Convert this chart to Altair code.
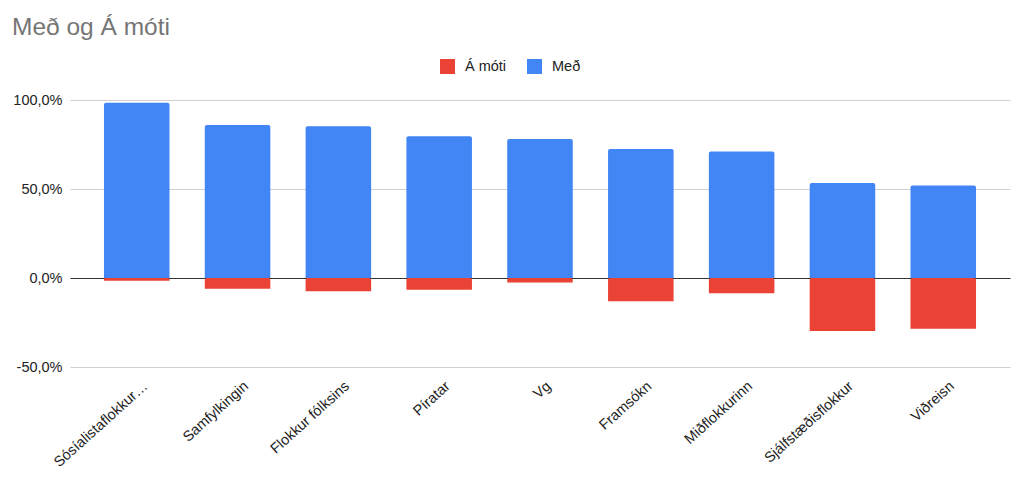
import altair as alt
import pandas as pd

parties = ["Sósíalistaflokkur…", "Samfylkingin", "Flokkur fólksins", "Píratar", "Vg",
           "Framsókn", "Miðflokkurinn", "Sjálfstæðisflokkur", "Viðreisn"]
med = [98.5, 86.0, 85.2, 79.6, 78.1, 72.5, 71.0, 53.4, 51.9]
a_moti = [-1.5, -6.0, -7.5, -6.6, -2.5, -13.0, -8.6, -29.8, -28.5]
series = ["Á móti", "Með"]
colors = ["#EA4335", "#4285F4"]
y_ticks = [-50, 0, 50, 100]

rows = []
for p, m, a in zip(parties, med, a_moti):
    rows.append({"flokkur": p, "hopur": "Með", "gildi": m})
    rows.append({"flokkur": p, "hopur": "Á móti", "gildi": a})
df = pd.DataFrame(rows)

FONT = "Liberation Sans"

chart = alt.Chart(df).mark_bar(cornerRadiusEnd=2).encode(
    x=alt.X("flokkur:N", sort=parties, title=None,
            scale=alt.Scale(paddingInner=0.35, paddingOuter=0.337),
            axis=alt.Axis(labelAngle=318, labelAlign="right", labelBaseline="middle",
                          labelPadding=17, labelOffset=9, labelLimit=0, domain=False, ticks=False,
                          labelFontSize=14.5, labelColor="#222", labelFont=FONT)),
    y=alt.Y("gildi:Q", stack=None, title=None,
            scale=alt.Scale(domain=[-50, 100], nice=False),
            axis=alt.Axis(values=y_ticks, domain=False, ticks=False, labelPadding=8,
                          labelFontSize=14.5, labelColor="#222", labelFont=FONT,
                          labelExpr="(datum.value < 0 ? '-' : '') + replace(format(abs(datum.value), '.1f'), '.', ',') + '%'",
                          gridColor=alt.condition("datum.value === 0", alt.value("#333333"), alt.value("#d0d0d0")))),
    color=alt.Color("hopur:N", sort=series, title=None,
                    scale=alt.Scale(domain=series, range=colors),
                    legend=alt.Legend(orient="none", legendX=370, legendY=-41, direction="horizontal",
                                      symbolType="square", symbolSize=225, symbolStrokeWidth=0,
                                      labelFontSize=14.5, labelColor="#222", labelFont=FONT,
                                      labelOffset=10, columnPadding=20, padding=0)),
).properties(
    width=940,
    height=267,
    background="white",
    title=alt.TitleParams("Með og Á móti", anchor="start", frame="group", fontSize=24.5,
                          color="#757575", font=FONT, fontWeight="normal", dx=-58,
                          baseline="alphabetic", offset=0),
    padding={"left": 62, "top": 92, "right": 6, "bottom": 100},
    autosize=alt.AutoSizeParams(type="none"),
).configure_view(stroke=None)

chart.save("out.html", embed_options={"renderer": "svg", "actions": False})
